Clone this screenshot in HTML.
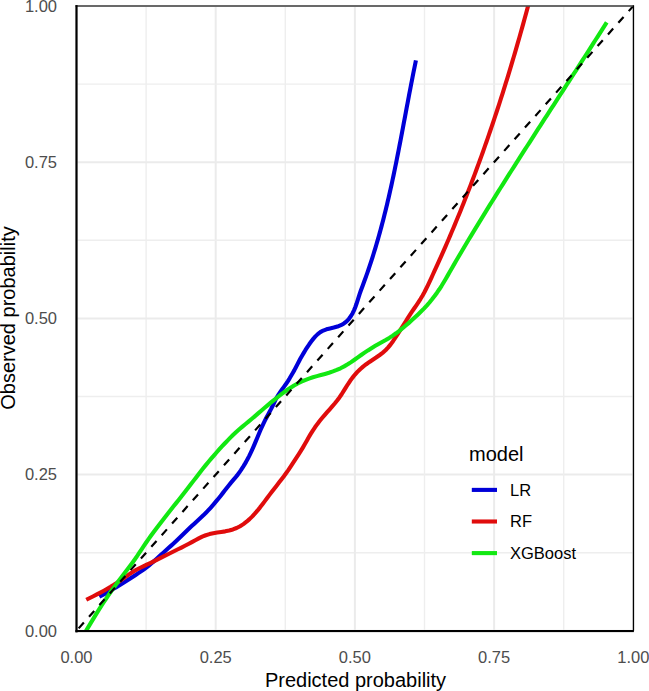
<!DOCTYPE html>
<html><head><meta charset="utf-8"><style>
html,body{margin:0;padding:0;background:#fff;}
body{width:649px;height:691px;overflow:hidden;}
svg{display:block;}
text{font-family:"Liberation Sans",sans-serif;}
.ax{font-size:16.5px;fill:#4d4d4d;}
.ti{font-size:20px;fill:#000;}
.lg{font-size:16.5px;fill:#000;}
</style></head><body>
<svg width="649" height="691" viewBox="0 0 649 691">
<rect x="0" y="0" width="649" height="691" fill="#fff"/>
<line x1="76.50" y1="6.0" x2="76.50" y2="630.8" stroke="#ebebeb" stroke-width="2.0"/>
<line x1="76.5" y1="630.80" x2="633.3" y2="630.80" stroke="#ebebeb" stroke-width="2.0"/>
<line x1="146.10" y1="6.0" x2="146.10" y2="630.8" stroke="#eeeeee" stroke-width="1.4"/>
<line x1="76.5" y1="552.70" x2="633.3" y2="552.70" stroke="#eeeeee" stroke-width="1.4"/>
<line x1="215.70" y1="6.0" x2="215.70" y2="630.8" stroke="#ebebeb" stroke-width="2.0"/>
<line x1="76.5" y1="474.60" x2="633.3" y2="474.60" stroke="#ebebeb" stroke-width="2.0"/>
<line x1="285.30" y1="6.0" x2="285.30" y2="630.8" stroke="#eeeeee" stroke-width="1.4"/>
<line x1="76.5" y1="396.50" x2="633.3" y2="396.50" stroke="#eeeeee" stroke-width="1.4"/>
<line x1="354.90" y1="6.0" x2="354.90" y2="630.8" stroke="#ebebeb" stroke-width="2.0"/>
<line x1="76.5" y1="318.40" x2="633.3" y2="318.40" stroke="#ebebeb" stroke-width="2.0"/>
<line x1="424.50" y1="6.0" x2="424.50" y2="630.8" stroke="#eeeeee" stroke-width="1.4"/>
<line x1="76.5" y1="240.30" x2="633.3" y2="240.30" stroke="#eeeeee" stroke-width="1.4"/>
<line x1="494.10" y1="6.0" x2="494.10" y2="630.8" stroke="#ebebeb" stroke-width="2.0"/>
<line x1="76.5" y1="162.20" x2="633.3" y2="162.20" stroke="#ebebeb" stroke-width="2.0"/>
<line x1="563.70" y1="6.0" x2="563.70" y2="630.8" stroke="#eeeeee" stroke-width="1.4"/>
<line x1="76.5" y1="84.10" x2="633.3" y2="84.10" stroke="#eeeeee" stroke-width="1.4"/>
<line x1="633.30" y1="6.0" x2="633.30" y2="630.8" stroke="#ebebeb" stroke-width="2.0"/>
<line x1="76.5" y1="6.00" x2="633.3" y2="6.00" stroke="#ebebeb" stroke-width="2.0"/>
<defs><clipPath id="pc"><rect x="76.5" y="6.0" width="556.8" height="624.8"/></clipPath></defs>
<g clip-path="url(#pc)">
<path d="M99.32,596.71 L102.22,595.17 L105.10,593.62 L107.93,592.05 L110.73,590.45 L113.51,588.82 L116.29,587.15 L119.08,585.44 L121.87,583.71 L124.66,581.96 L127.43,580.20 L130.19,578.44 L132.93,576.69 L135.64,574.93 L138.34,573.15 L141.02,571.34 L143.67,569.49 L146.28,567.58 L148.83,565.60 L151.30,563.53 L153.73,561.39 L156.14,559.23 L158.54,557.05 L160.94,554.87 L163.34,552.68 L165.74,550.50 L168.17,548.32 L170.60,546.14 L173.02,543.93 L175.42,541.70 L177.79,539.46 L180.12,537.23 L182.44,535.00 L184.74,532.76 L187.05,530.54 L189.36,528.31 L191.69,526.10 L194.05,523.90 L196.44,521.72 L198.84,519.54 L201.24,517.34 L203.60,515.10 L205.91,512.79 L208.17,510.42 L210.37,508.01 L212.52,505.57 L214.63,503.12 L216.70,500.66 L218.74,498.18 L220.76,495.67 L222.76,493.14 L224.75,490.58 L226.74,488.01 L228.76,485.45 L230.82,482.91 L232.94,480.42 L235.07,477.93 L237.12,475.41 L239.07,472.82 L240.93,470.17 L242.71,467.47 L244.42,464.70 L246.05,461.88 L247.62,459.00 L249.13,456.08 L250.57,453.13 L251.97,450.15 L253.31,447.15 L254.60,444.15 L255.85,441.15 L257.08,438.16 L258.31,435.18 L259.56,432.20 L260.84,429.24 L262.17,426.30 L263.56,423.37 L265.01,420.45 L266.51,417.55 L268.05,414.66 L269.60,411.79 L271.13,408.91 L272.58,406.00 L273.97,403.06 L275.36,400.14 L276.86,397.29 L278.52,394.55 L280.32,391.89 L282.20,389.27 L284.09,386.65 L285.96,384.00 L287.77,381.31 L289.49,378.56 L291.13,375.75 L292.77,372.95 L294.39,370.13 L295.91,367.25 L297.39,364.34 L298.89,361.44 L300.44,358.56 L302.06,355.69 L303.74,352.84 L305.49,349.97 L307.33,347.11 L309.23,344.28 L311.21,341.52 L313.26,338.88 L315.42,336.40 L317.76,334.14 L320.33,332.16 L323.22,330.55 L326.46,329.34 L330.01,328.42 L333.75,327.60 L337.44,326.59 L340.88,325.22 L343.95,323.44 L346.64,321.28 L348.96,318.80 L350.95,316.08 L352.65,313.17 L354.11,310.12 L355.37,306.97 L356.51,303.76 L357.55,300.53 L358.57,297.31 L359.60,294.14 L360.68,291.05 L361.81,287.99 L362.95,284.92 L364.10,281.84 L365.23,278.76 L366.34,275.67 L367.42,272.59 L368.48,269.51 L369.51,266.45 L370.52,263.39 L371.52,260.35 L372.49,257.30 L373.45,254.24 L374.40,251.16 L375.34,248.07 L376.26,244.99 L377.16,241.92 L378.05,238.84 L378.93,235.74 L379.79,232.62 L380.65,229.50 L381.49,226.38 L382.31,223.27 L383.12,220.14 L383.93,217.00 L384.73,213.83 L385.51,210.66 L386.28,207.53 L387.03,204.42 L387.76,201.31 L388.49,198.18 L389.22,195.01 L389.95,191.81 L390.66,188.62 L391.36,185.45 L392.04,182.31 L392.72,179.15 L393.40,175.98 L394.07,172.79 L394.73,169.61 L395.37,166.45 L396.01,163.31 L396.65,160.15 L397.29,156.96 L397.92,153.76 L398.54,150.58 L399.16,147.42 L399.77,144.25 L400.39,141.05 L401.01,137.83 L401.62,134.61 L402.23,131.42 L402.82,128.26 L403.41,125.12 L404.01,121.96 L404.61,118.77 L405.21,115.55 L405.82,112.33 L406.42,109.14 L407.02,105.96 L407.62,102.77 L408.22,99.58 L408.83,96.39 L409.43,93.20 L410.04,90.02 L410.65,86.87 L411.26,83.71 L411.88,80.54 L412.50,77.36 L413.13,74.19 L413.78,70.96 L414.46,67.61 L415.17,64.09 L415.92,60.42" fill="none" stroke="#0000d8" stroke-width="4.1" stroke-linejoin="round" stroke-linecap="butt"/>
<path d="M86.26,599.77 L89.81,597.99 L93.35,596.21 L96.89,594.41 L100.39,592.59 L103.86,590.74 L107.27,588.83 L110.63,586.87 L113.93,584.84 L117.17,582.73 L120.36,580.54 L123.52,578.31 L126.67,576.07 L129.83,573.87 L133.05,571.75 L136.36,569.79 L139.79,568.01 L143.27,566.34 L146.76,564.70 L150.24,563.05 L153.72,561.37 L157.19,559.65 L160.65,557.93 L164.09,556.20 L167.54,554.48 L171.01,552.75 L174.48,551.03 L177.96,549.29 L181.46,547.55 L184.95,545.77 L188.42,543.94 L191.87,542.08 L195.31,540.21 L198.75,538.37 L202.22,536.66 L205.79,535.23 L209.49,534.10 L213.32,533.23 L217.25,532.56 L221.24,531.98 L225.21,531.36 L229.13,530.56 L232.93,529.47 L236.58,528.00 L240.07,526.21 L243.39,524.11 L246.53,521.73 L249.51,519.13 L252.33,516.35 L255.03,513.43 L257.61,510.42 L260.09,507.36 L262.49,504.25 L264.83,501.12 L267.16,497.99 L269.50,494.88 L271.86,491.79 L274.24,488.71 L276.62,485.63 L279.00,482.56 L281.38,479.48 L283.73,476.39 L286.04,473.27 L288.29,470.11 L290.46,466.90 L292.58,463.66 L294.70,460.41 L296.83,457.16 L298.95,453.92 L301.00,450.66 L302.99,447.36 L304.91,444.02 L306.81,440.64 L308.73,437.26 L310.72,433.89 L312.80,430.57 L314.98,427.31 L317.26,424.14 L319.63,421.05 L322.08,418.04 L324.60,415.08 L327.15,412.17 L329.71,409.28 L332.24,406.40 L334.74,403.50 L337.15,400.53 L339.47,397.46 L341.65,394.26 L343.72,390.94 L345.77,387.60 L347.86,384.28 L350.03,381.03 L352.33,377.87 L354.79,374.83 L357.39,371.92 L360.15,369.18 L363.11,366.63 L366.24,364.22 L369.46,361.92 L372.78,359.71 L376.11,357.53 L379.39,355.25 L382.56,352.85 L385.52,350.26 L388.22,347.41 L390.69,344.35 L393.01,341.17 L395.22,337.94 L397.37,334.68 L399.46,331.40 L401.53,328.10 L403.60,324.79 L405.68,321.47 L407.76,318.17 L409.85,314.92 L411.98,311.70 L414.15,308.50 L416.34,305.30 L418.50,302.08 L420.61,298.80 L422.63,295.44 L424.52,292.01 L426.30,288.53 L427.99,285.05 L429.63,281.55 L431.27,278.03 L432.89,274.50 L434.51,270.96 L436.13,267.43 L437.73,263.91 L439.31,260.40 L440.89,256.90 L442.45,253.40 L444.00,249.88 L445.55,246.35 L447.10,242.79 L448.64,239.22 L450.17,235.65 L451.69,232.07 L453.21,228.48 L454.71,224.89 L456.19,221.33 L457.65,217.78 L459.11,214.23 L460.56,210.65 L462.01,207.05 L463.45,203.44 L464.89,199.83 L466.31,196.22 L467.72,192.61 L469.11,189.01 L470.50,185.42 L471.87,181.83 L473.23,178.23 L474.59,174.61 L475.95,170.98 L477.30,167.31 L478.66,163.63 L479.99,159.97 L481.31,156.33 L482.61,152.70 L483.90,149.07 L485.19,145.42 L486.49,141.74 L487.77,138.06 L489.03,134.40 L490.28,130.76 L491.51,127.14 L492.74,123.52 L493.96,119.88 L495.18,116.20 L496.41,112.49 L497.63,108.76 L498.84,105.05 L500.03,101.36 L501.21,97.69 L502.38,94.02 L503.54,90.35 L504.69,86.67 L505.84,82.97 L506.99,79.27 L508.13,75.55 L509.27,71.82 L510.40,68.09 L511.51,64.37 L512.62,60.67 L513.71,56.99 L514.79,53.30 L515.88,49.60 L516.95,45.89 L518.02,42.18 L519.09,38.46 L520.14,34.75 L521.19,31.06 L522.22,27.37 L523.26,23.65 L524.32,19.82 L525.42,15.80 L526.59,11.55 L527.81,7.06 L530.98,-4.51" fill="none" stroke="#e00c0c" stroke-width="4.1" stroke-linejoin="round" stroke-linecap="butt"/>
<path d="M83.26,635.56 L86.34,630.41 L88.43,626.88 L90.53,623.36 L92.65,619.85 L94.78,616.34 L96.93,612.85 L99.11,609.37 L101.32,605.92 L103.57,602.48 L105.84,599.06 L108.15,595.67 L110.49,592.29 L112.86,588.94 L115.25,585.62 L117.68,582.32 L120.12,579.04 L122.58,575.78 L125.05,572.54 L127.52,569.30 L129.97,566.05 L132.40,562.78 L134.77,559.48 L137.08,556.12 L139.35,552.73 L141.60,549.31 L143.87,545.90 L146.17,542.50 L148.52,539.14 L150.90,535.81 L153.32,532.51 L155.77,529.22 L158.25,525.95 L160.74,522.69 L163.24,519.44 L165.76,516.21 L168.28,512.99 L170.81,509.78 L173.35,506.58 L175.90,503.38 L178.44,500.18 L180.99,496.98 L183.52,493.77 L186.04,490.56 L188.54,487.34 L191.01,484.12 L193.47,480.88 L195.93,477.65 L198.39,474.42 L200.88,471.21 L203.40,468.02 L205.96,464.85 L208.55,461.72 L211.17,458.62 L213.82,455.54 L216.50,452.49 L219.20,449.47 L221.94,446.47 L224.70,443.49 L227.51,440.54 L230.35,437.63 L233.25,434.76 L236.22,431.96 L239.28,429.25 L242.42,426.60 L245.58,424.00 L248.76,421.40 L251.91,418.78 L255.03,416.12 L258.13,413.40 L261.23,410.69 L264.38,408.00 L267.55,405.34 L270.73,402.70 L273.94,400.09 L277.18,397.51 L280.45,394.97 L283.78,392.46 L287.14,390.02 L290.57,387.69 L294.08,385.52 L297.67,383.52 L301.34,381.69 L305.11,380.06 L308.97,378.61 L312.91,377.31 L316.91,376.13 L320.95,375.02 L324.99,373.90 L329.00,372.72 L332.93,371.41 L336.78,369.93 L340.52,368.26 L344.16,366.39 L347.70,364.33 L351.13,362.10 L354.50,359.76 L357.84,357.38 L361.18,355.01 L364.55,352.68 L367.96,350.41 L371.43,348.22 L374.94,346.11 L378.50,344.06 L382.11,342.06 L385.71,340.02 L389.25,337.88 L392.71,335.64 L396.08,333.28 L399.36,330.78 L402.59,328.20 L405.76,325.55 L408.89,322.84 L411.97,320.08 L415.01,317.28 L418.03,314.43 L421.00,311.56 L423.92,308.62 L426.74,305.59 L429.45,302.48 L432.06,299.29 L434.58,296.03 L437.01,292.69 L439.35,289.27 L441.60,285.79 L443.75,282.26 L445.85,278.71 L447.91,275.14 L449.96,271.56 L452.02,267.97 L454.08,264.37 L456.16,260.79 L458.23,257.25 L460.30,253.72 L462.37,250.22 L464.44,246.74 L466.51,243.27 L468.59,239.80 L470.68,236.33 L472.78,232.85 L474.90,229.36 L477.04,225.85 L479.18,222.33 L481.33,218.82 L483.48,215.33 L485.62,211.86 L487.76,208.40 L489.89,204.95 L492.03,201.51 L494.17,198.08 L496.32,194.64 L498.47,191.20 L500.64,187.76 L502.80,184.32 L504.98,180.87 L507.16,177.42 L509.34,173.97 L511.54,170.51 L513.74,167.05 L515.94,163.59 L518.15,160.13 L520.36,156.66 L522.59,153.19 L524.81,149.71 L527.04,146.24 L529.27,142.77 L531.50,139.30 L533.72,135.85 L535.94,132.41 L538.14,128.98 L540.34,125.57 L542.55,122.15 L544.76,118.73 L546.98,115.30 L549.19,111.87 L551.40,108.45 L553.62,105.03 L555.84,101.59 L558.06,98.15 L560.28,94.72 L562.49,91.30 L564.70,87.89 L566.91,84.48 L569.11,81.06 L571.32,77.64 L573.54,74.21 L575.76,70.77 L577.98,67.32 L580.20,63.87 L582.41,60.43 L584.62,56.99 L586.84,53.55 L589.05,50.10 L591.25,46.65 L593.45,43.21 L595.65,39.76 L597.86,36.30 L600.07,32.82 L602.29,29.33 L604.52,25.83 L606.74,22.32" fill="none" stroke="#12e812" stroke-width="4.1" stroke-linejoin="round" stroke-linecap="butt"/>
<line x1="76.5" y1="630.8" x2="633.3" y2="6.0" stroke="#000" stroke-width="2.2" stroke-dasharray="7.8 7.8" stroke-dashoffset="12.35"/>
</g>
<rect x="75.5" y="5.2" width="557.8" height="1.6" fill="#4a4a4a"/>
<rect x="632.8" y="5.2" width="1.3" height="625.5999999999999" fill="#000"/>
<rect x="75.4" y="5.1" width="2.2" height="627.3" fill="#000"/>
<rect x="75.4" y="630.0" width="558.5" height="2.1" fill="#000"/>
<text x="57" y="636.50" text-anchor="end" class="ax">0.00</text>
<text x="76.50" y="662.6" text-anchor="middle" class="ax">0.00</text>
<text x="57" y="480.30" text-anchor="end" class="ax">0.25</text>
<text x="215.70" y="662.6" text-anchor="middle" class="ax">0.25</text>
<text x="57" y="324.10" text-anchor="end" class="ax">0.50</text>
<text x="354.90" y="662.6" text-anchor="middle" class="ax">0.50</text>
<text x="57" y="167.90" text-anchor="end" class="ax">0.75</text>
<text x="494.10" y="662.6" text-anchor="middle" class="ax">0.75</text>
<text x="57" y="11.70" text-anchor="end" class="ax">1.00</text>
<text x="633.30" y="662.6" text-anchor="middle" class="ax">1.00</text>
<text x="355.5" y="686.6" text-anchor="middle" class="ti">Predicted probability</text>
<text transform="translate(14.8,318) rotate(-90)" text-anchor="middle" class="ti">Observed probability</text>
<text x="469" y="460.7" class="ti">model</text>
<line x1="471.8" y1="489.9" x2="497" y2="489.9" stroke="#0000d8" stroke-width="4.1"/>
<line x1="471.8" y1="521.5" x2="497" y2="521.5" stroke="#e00c0c" stroke-width="4.1"/>
<line x1="471.8" y1="553.1" x2="497" y2="553.1" stroke="#12e812" stroke-width="4.1"/>
<text x="510" y="495.7" class="lg">LR</text>
<text x="510" y="527.3" class="lg">RF</text>
<text x="510" y="558.9" class="lg">XGBoost</text>
</svg>
</body></html>
